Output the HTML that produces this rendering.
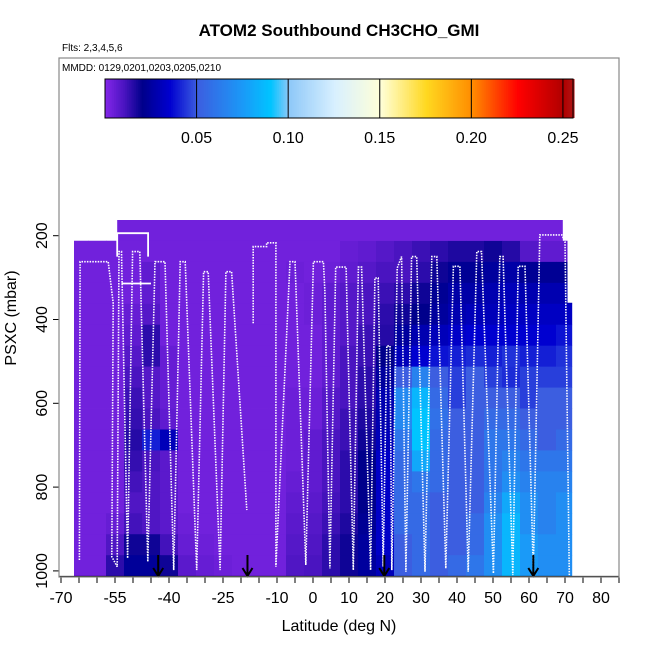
<!DOCTYPE html>
<html><head><meta charset="utf-8"><style>
body{margin:0;background:#fff;}
svg text{font-family:"Liberation Sans",Arial,sans-serif;}
</style></head><body>
<svg id="chart" width="650" height="650" viewBox="0 0 650 650">
<defs><clipPath id="cov"><polygon id="covpoly" points=""/></clipPath></defs>
<text x="339" y="36" text-anchor="middle" font-size="17" font-weight="bold">ATOM2 Southbound CH3CHO_GMI</text>
<text x="62" y="51" font-size="10">Flts: 2,3,4,5,6</text>
<g id="cells" clip-path="url(#cov)"></g>
<g id="colorbar"></g>
<g id="tracks"></g>
<g id="arrows"></g>
<g id="axes"></g>
<rect x="59" y="58" width="560" height="519" fill="none" stroke="#888" stroke-width="1.2"/>
<text x="62" y="71" font-size="10">MMDD: 0129,0201,0203,0205,0210</text>
<text x="339" y="631" text-anchor="middle" font-size="16">Latitude (deg N)</text>
<text transform="translate(16,318) rotate(-90)" text-anchor="middle" font-size="16">PSXC (mbar)</text>
</svg>
<script>
const P=0.003, n=null;
const latCenters=[-65,-60,-55,-50,-45,-40,-35,-30,-25,-20,-15,-10,-5,0,5,10,15,20,25,30,35,40,45,50,55,60,65,70];
const presCenters=[187.5,237.5,287.5,337.5,387.5,437.5,487.5,537.5,587.5,637.5,687.5,737.5,787.5,837.5,887.5,937.5,987.5];
const values=[
[P,P,P,P,P,P,P,P,P,P,P,P,P,P,P,P,P,P,P,P,P,P,P,P,P,P,P,P],
[P,P,P,P,P,P,P,P,P,P,P,P,P,P,P,.005,.006,.008,.01,.012,.014,.016,.016,.018,.015,.008,.006,.006],
[P,P,P,P,.006,P,P,P,P,P,P,P,.004,P,.004,.006,.008,.01,.01,.014,.018,.022,.022,.024,.026,.022,.022,.022],
[P,P,P,P,.006,P,P,P,P,P,P,P,P,.004,.006,.008,.01,.012,.014,.018,.022,.026,.026,.028,.03,.028,.028,.028],
[P,P,P,.005,.008,P,P,P,P,P,P,P,P,.004,.006,.008,.01,.014,.018,.02,.024,.028,.03,.03,.032,.032,.032,.032],
[P,P,P,.006,.014,P,P,P,P,P,P,P,P,P,.006,.008,.012,.015,.024,.028,.03,.033,.035,.035,.035,.035,.035,.038],
[P,P,P,.008,.014,.005,P,P,P,P,P,P,P,P,.006,.01,.012,.02,.03,.035,.038,.04,.042,.04,.043,.04,.04,.043],
[P,P,P,.01,.008,.005,P,P,P,P,P,P,P,P,.006,.01,.014,.024,.05,.065,.05,.045,.05,.045,.042,.045,.045,.045],
[P,P,P,.012,.008,.005,P,P,P,P,P,P,.004,.004,.008,.01,.014,.028,.068,.085,.055,.045,.05,.05,.05,.045,.05,.05],
[P,P,P,.013,.01,.006,P,P,P,P,P,P,.004,.004,.008,.012,.016,.028,.068,.09,.058,.05,.05,.055,.055,.05,.05,.05],
[P,P,P,.015,.04,.03,P,P,P,P,P,P,.004,.006,.01,.012,.018,.03,.06,.09,.055,.05,.05,.06,.06,.055,.05,.055],
[P,P,P,.013,.01,.007,P,P,P,P,P,P,.004,.006,.01,.014,.02,.033,.055,.08,.055,.05,.05,.06,.065,.06,.06,.06],
[P,P,P,.011,.009,.007,P,P,P,P,P,P,.005,.006,.01,.014,.02,.033,.055,.06,.055,.05,.05,.06,.07,.065,.065,.065],
[P,P,P,.009,.009,.007,P,P,P,P,P,P,.006,.007,.011,.014,.02,.033,.055,.055,.05,.05,.05,.065,.08,.07,.065,.07],
[P,P,.005,.011,.009,.007,.004,P,P,P,P,P,.007,.008,.012,.016,.022,.033,.055,.055,.05,.05,.055,.07,.085,.07,.065,.07],
[P,P,.009,.018,.018,.011,.005,.004,P,P,P,P,.008,.009,.014,.018,.024,.033,.05,.055,.05,.05,.055,.07,.085,.075,.07,.07],
[P,P,.014,.023,.023,.018,.007,.005,.004,P,P,P,.009,.01,.014,.018,.024,.03,.05,.055,.05,.055,.06,.07,.085,.075,.07,.07]
];
const coverLat=[-66.4,-54.4,-54.4,69.4,69.4,70.7,70.7,72,72,-66.4];
const coverP=[212,212,162.5,162.5,212,212,360,360,1013,1013];
const trackLat=[-64.9,-64.7,-56.9,-55.5,-55.9,-54.4,-53.9,-53.2,-51.5,-50.1,-48.1,-45.9,-43.9,-41.1,-38.7,-36.9,-35.5,-32.3,-30.4,-29.1,-25.8,-24.2,-22.6,-18.4];
const trackP=[974,262,262,361,966,990,238,238,970,238,238,978,262,262,998,262,262,998,286,286,998,286,286,855];
const track2Lat=[-16.6,-16.6,-12.9,-12.9,-10.3,-10.3,-6.4,-5.0,-2.0,0.1,2.9,3.3,4.7,6.3,9.2,11.2,12.6,13.5,16.0,17.2,18.1,19.5,20.5,21.4,21.9,23.4,24.6,25.8,27.4,28.8,31.1,33.0,34.4,36.9,39.0,40.8,43.1,45.5,46.8,50.1,51.9,52.8,55.5,57.0,58.9,61.2,63.0,69.1,70.0,71.2];
const track2P=[409,226,226,217,217,990,262,262,986,262,262,334,994,275,275,998,275,275,998,301,301,990,463,463,998,277,250,1002,250,250,1002,250,250,994,273,273,1002,238,238,1006,250,250,1010,273,273,1002,198,198,214,1010];
const legLat=[[-54.4,-54.4,-45.8,-45.8],[-53.2,-45.0]];
const legP=[[250,194,194,250],[314,314]];
const arrowLat=[-43,-18.2,19.8,61.2];
const xTicks=[-70,-65,-60,-55,-50,-45,-40,-35,-30,-25,-20,-15,-10,-5,0,5,10,15,20,25,30,35,40,45,50,55,60,65,70,75,80,85];
const xLabels=[-70,-55,-40,-25,-10,0,10,20,30,40,50,60,70,80];
const yTicks=[200,400,600,800,1000];
const cbTicks=[0.05,0.10,0.15,0.20,0.25];
const cbStops=[[0,'#8226e8'],[0.01,'#4a14c0'],[0.02,'#00008b'],[0.035,'#0000d0'],[0.05,'#3c5ee0'],[0.075,'#1a9af8'],[0.09,'#00c4ff'],[0.1,'#8ec8f8'],[0.125,'#d8f0ff'],[0.15,'#ffffd8'],[0.175,'#ffd820'],[0.2,'#ff8c00'],[0.225,'#ff0000'],[0.25,'#b00000'],[0.256,'#b01818']];

const NS='http://www.w3.org/2000/svg';
const x=lat=>313+3.6*lat;
const y=p=>235.7+(p-200)*0.419;
function hex(c){return [1,3,5].map(i=>parseInt(c.substr(i,2),16));}
function color(v){
  if(v<=cbStops[0][0])return cbStops[0][1];
  for(let i=1;i<cbStops.length;i++){
    if(v<=cbStops[i][0]){const a=cbStops[i-1],b=cbStops[i];const t=(v-a[0])/(b[0]-a[0]);
      const ca=hex(a[1]),cb=hex(b[1]);return 'rgb('+ca.map((q,k)=>Math.round(q+(cb[k]-q)*t)).join(',')+')';}
  }
  return cbStops[cbStops.length-1][1];
}
function mk(tag,attrs,parent){const e=document.createElementNS(NS,tag);for(const k in attrs)e.setAttribute(k,attrs[k]);parent.appendChild(e);return e;}
document.getElementById('covpoly').setAttribute('points',coverLat.map((l,i)=>x(l).toFixed(1)+','+Math.min(y(coverP[i]),576).toFixed(1)).join(' '));
const gc=document.getElementById('cells');
values.forEach((row,i)=>row.forEach((v,j)=>{
  if(v===null)return;
  const x0=x(latCenters[j]-2.5),x1=x(latCenters[j]+2.5),y0=y(presCenters[i]-25),y1=y(presCenters[i]+25);
  const r=mk('rect',{x:x0,y:y0,width:x1-x0+0.4,height:y1-y0+0.4,fill:color(v)},gc);
  
  
}));
const gcb=document.getElementById('colorbar');
const cbx=v=>105+v*(468/0.2555);
for(let v=0;v<0.2555;v+=0.001){const r=mk('rect',{x:cbx(v),y:79,width:468/255+0.6,height:39,fill:color(v)},gcb);
  
  }
const cbf=mk('rect',{x:105,y:79,width:468,height:39,fill:'none',stroke:'#000','stroke-width':1},gcb);


cbTicks.forEach(t=>{
  const l=mk('line',{x1:cbx(t),x2:cbx(t),y1:79,y2:118,stroke:'#000','stroke-width':1},gcb);
  
  
  const tx=mk('text',{x:cbx(t),y:143,'text-anchor':'middle','font-size':16},gcb);tx.textContent=t.toFixed(2);
  
  
});
const gt=document.getElementById('tracks');
function path(lats,ps){return lats.map((l,i)=>(i?'L':'M')+x(l).toFixed(1)+','+y(ps[i]).toFixed(1)).join('');}
[[trackLat,trackP],[track2Lat,track2P]].forEach(([a,b])=>{
  const pth=mk('path',{d:path(a,b),fill:'none',stroke:'#fff','stroke-width':1.6,'stroke-dasharray':'1.5 1.2'},gt);
  
  
});
legLat.forEach((a,i)=>{
  const pth=mk('path',{d:path(a,legP[i]),fill:'none',stroke:'#fff','stroke-width':1.8},gt);
  
  
});
const ga=document.getElementById('arrows');
arrowLat.forEach(l=>{
  const xx=x(l);
  const a=mk('path',{d:`M${xx},555L${xx},576M${xx-5},568L${xx},576L${xx+5},568`,fill:'none',stroke:'#000','stroke-width':2},ga);
  
  
});
const gx=document.getElementById('axes');
const al=mk('line',{x1:59,x2:619,y1:576.5,y2:576.5,stroke:'#000','stroke-width':1.2},gx);


xTicks.forEach(t=>{
  const l=mk('line',{x1:x(t),x2:x(t),y1:577,y2:583,stroke:'#000'},gx);
  
  
});
xLabels.forEach(t=>{
  const tx=mk('text',{x:x(t),y:603,'text-anchor':'middle','font-size':16},gx);tx.textContent=t;
  
  
});
yTicks.forEach(t=>{
  const l=mk('line',{x1:53,x2:59,y1:y(t),y2:y(t),stroke:'#000'},gx);
  
  
  const tx=mk('text',{transform:`translate(47,${y(t)}) rotate(-90)`,'text-anchor':'middle','font-size':16},gx);tx.textContent=t;
  
  
});
</script>
</body></html>
